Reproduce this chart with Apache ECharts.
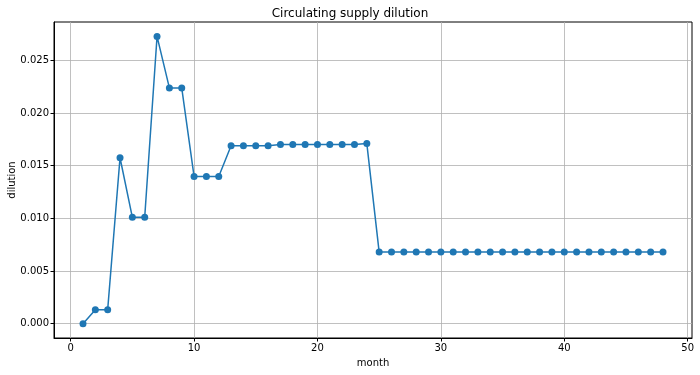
<!DOCTYPE html>
<html>
<head>
<meta charset="utf-8">
<script src="https://cdn.jsdelivr.net/npm/echarts@6/dist/echarts.min.js"></script>
<style>
  html, body { margin: 0; padding: 0; background: #fff; }
  #main { width: 700px; height: 375px; }
</style>
</head>
<body>
<div id="main"></div>
<script>
var months = [];
for (var m = 1; m <= 48; m++) months.push(m);

var dilution = [
  0.0, 0.00133, 0.00133, 0.01575, 0.0101, 0.0101, 0.02727, 0.02238, 0.02238,
  0.01398, 0.01398, 0.01398,
  0.0169, 0.0169, 0.0169, 0.0169, 0.017, 0.017, 0.017, 0.017, 0.017, 0.017, 0.017, 0.0171,
  0.0068, 0.0068, 0.0068, 0.0068, 0.0068, 0.0068, 0.0068, 0.0068, 0.0068, 0.0068, 0.0068, 0.0068,
  0.0068, 0.0068, 0.0068, 0.0068, 0.0068, 0.0068, 0.0068, 0.0068, 0.0068, 0.0068, 0.0068, 0.0068
];

var xTicks = [0, 10, 20, 30, 40, 50];
var yTicks = [0, 0.005, 0.01, 0.015, 0.02, 0.025];

var points = months.map(function (m, i) { return [m, dilution[i]]; });

var myChart = echarts.init(document.getElementById('main'));

var font = 'DejaVu Sans';

var option = {
  backgroundColor: '#fff',
  animation: false,
  title: {
    text: 'Circulating supply dilution',
    left: 'center',
    top: 3,
    textStyle: { fontFamily: font, fontSize: 12, fontWeight: 'normal', color: '#000' }
  },
  grid: {
    left: 54, right: 8, top: 22, bottom: 37,
    outerBoundsMode: 'none',
    show: true, borderColor: '#000', borderWidth: 1
  },
  xAxis: {
    type: 'value',
    min: -1.35,
    max: 50.35,
    name: 'month',
    nameLocation: 'middle',
    nameGap: 20,
    nameMoveOverlap: false,
    nameTextStyle: { fontFamily: font, fontSize: 10, color: '#000' },
    axisLine: { show: true, onZero: false, lineStyle: { color: '#000', width: 1 } },
    axisTick: { show: true, length: 3.5, customValues: xTicks, lineStyle: { color: '#000' } },
    axisLabel: { customValues: xTicks, fontFamily: font, fontSize: 10, color: '#000', margin: 5 },
    splitLine: { show: true, lineStyle: { color: '#b0b0b0', width: 0.8 } }
  },
  yAxis: {
    type: 'value',
    min: -0.00136,
    max: 0.02864,
    name: 'dilution',
    nameLocation: 'middle',
    nameGap: 37,
    nameMoveOverlap: false,
    nameTextStyle: { fontFamily: font, fontSize: 10, color: '#000' },
    axisLine: { show: true, onZero: false, lineStyle: { color: '#000', width: 1 } },
    axisTick: { show: true, length: 3.5, customValues: yTicks, lineStyle: { color: '#000' } },
    axisLabel: {
      customValues: yTicks, fontFamily: font, fontSize: 10, color: '#000', margin: 5,
      formatter: function (v) { return v.toFixed(3); }
    },
    splitLine: { show: true, lineStyle: { color: '#b0b0b0', width: 0.8 } }
  },
  series: [{
    type: 'line',
    data: points,
    symbol: 'circle',
    symbolSize: 7,
    itemStyle: { color: '#1f77b4' },
    lineStyle: { color: '#1f77b4', width: 1.5 }
  }]
};

myChart.setOption(option);
</script>
</body>
</html>
